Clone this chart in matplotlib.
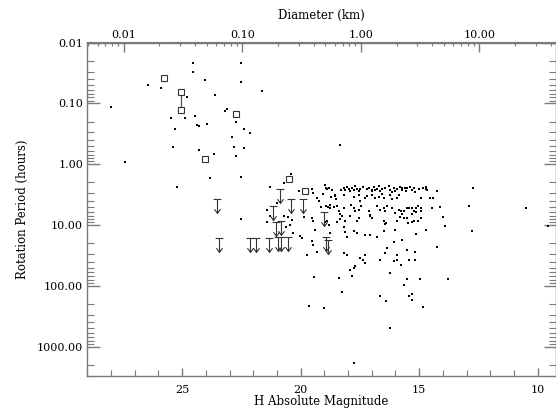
import matplotlib
matplotlib.use("Agg")
import matplotlib.pyplot as plt
from matplotlib.path import Path
from matplotlib.ticker import FixedLocator, FuncFormatter, LogLocator, MultipleLocator, NullFormatter
import numpy as np

# ---- data: H absolute magnitude, rotation period (hours) ----
dot_H = [28.02, 27.39, 26.43, 25.90, 24.55, 24.55, 24.02, 22.51, 22.51, 21.63, 24.81, 23.62, 25.49, 24.89, 24.44,
         25.30, 24.38, 24.27, 23.95, 23.20, 23.10, 22.71, 22.40, 22.12, 22.89, 25.40, 24.30, 23.67, 22.82, 22.40,
         22.72, 23.81, 22.51, 25.21, 21.31, 18.33,
         22.50, 20.72, 20.39, 20.09, 19.52, 19.48, 19.31, 19.24, 18.96, 18.89, 18.82, 18.54, 21.42, 21.00, 21.28,
         21.42, 20.72, 20.55, 20.36, 20.47, 20.60, 19.88, 19.52, 19.48, 19.15, 18.86, 18.75, 18.61, 18.96, 19.38,
         18.78, 18.47, 18.36, 18.19, 18.12, 18.05, 20.32, 20.04, 19.94, 19.52, 19.48, 19.31, 19.73, 18.19, 18.05,
         17.77, 17.91, 17.49, 17.35, 17.28, 19.45, 18.40, 17.84, 17.70, 16.22, 15.52, 14.96, 13.79, 15.63, 18.26,
         16.64, 16.39, 15.41, 15.31, 15.31, 19.63, 19.03, 14.82, 16.22, 17.73, 19.07,
         16.64, 17.28, 16.43, 16.36, 16.08, 15.94, 15.77, 15.53, 15.45, 15.17, 15.17, 14.25, 15.13, 15.73, 14.70,
         13.90, 13.98, 16.08, 15.94,
         12.74, 12.88, 12.78, 10.49, 9.55, 14.11, 14.44, 14.23, 14.70, 14.70, 14.67, 14.53, 14.43, 14.93,
         15.73, 15.52, 15.55, 15.31, 15.24, 15.17, 15.52, 15.41, 15.31, 15.21, 15.13, 15.07, 14.93, 14.93, 15.73,
         15.66, 15.52, 15.31, 15.13, 14.93, 15.49, 15.31, 15.21, 15.03,
         18.92, 18.68, 18.19, 18.12, 18.05, 17.98, 17.91, 17.84, 17.77, 17.63, 17.56, 17.49, 17.20, 17.13, 16.99,
         16.92, 16.85, 16.78, 16.64, 16.57, 16.29, 16.22, 16.08, 16.01, 15.94, 15.80, 15.73, 15.62,
         18.71, 18.54, 18.50, 18.19, 17.77, 17.56, 17.49, 17.30, 17.20, 16.99, 16.85, 16.71, 16.57, 16.50, 16.22,
         16.15, 15.94, 15.84,
         18.93, 18.75, 18.47, 18.37, 18.33, 18.19, 17.86, 17.77, 17.70, 17.56, 17.44, 17.13, 17.06, 16.78, 16.64,
         16.50, 16.43, 16.36, 16.15, 16.01, 15.84, 15.76, 15.66,
         18.89, 18.82, 18.26, 18.12, 17.91, 17.63, 17.56, 17.06, 16.99, 16.50, 16.40, 15.94, 15.80,
         17.77, 17.63, 17.27, 17.06, 16.78, 16.50, 16.43, 16.01,
         17.35, 17.00, 16.45, 16.15, 15.40, 15.00, 14.85, 17.70, 18.30, 16.70]
dot_P = [0.117, 0.92, 0.050, 0.057, 0.022, 0.031, 0.042, 0.022, 0.044, 0.062, 0.078, 0.073, 0.176, 0.172, 0.163,
         0.265, 0.229, 0.234, 0.217, 0.135, 0.123, 0.203, 0.26, 0.31, 0.355, 0.52, 0.59, 0.67, 0.53, 0.55,
         0.74, 1.72, 1.60, 2.34, 2.37, 0.48,
         8.1, 2.05, 1.43, 2.72, 2.55, 3.0, 3.6, 4.05, 2.2, 2.6, 2.45, 3.35, 5.6, 4.41, 7.0,
         8.9, 7.0, 7.5, 8.3, 10.0, 10.6, 7.5, 7.7, 8.5, 5.1, 5.0, 4.7, 5.0, 8.85, 12.1,
         13.7, 8.85, 8.1, 10.7, 12.9, 15.6, 13.7, 14.9, 16.3, 18.6, 21.7, 27.6, 30.6, 29.0, 30.9,
         51, 55, 35, 37.5, 42.5, 72, 73, 68, 48, 62, 78, 78, 76, 98, 125,
         148, 180, 148, 134, 172, 217, 231, 220, 490, 1880, 3.06,
         37.5, 31, 28.8, 23.8, 39, 37.5, 46, 25.7, 37.5, 27.4, 37.5, 22.7, 14.2, 17.6, 12.1,
         10.4, 7.3, 18.8, 31,
         2.45, 4.83, 12.4, 5.3, 10.4, 5.1, 5.3, 2.77, 2.35, 2.55, 2.65, 3.65, 3.56, 3.56,
         2.45, 2.45, 2.74, 2.65, 2.45, 2.9, 5.3, 5.2, 5.3, 5.9, 5.2, 4.95, 5.3, 5.9, 6.7,
         7.6, 7.6, 6.7, 6.2, 7.6, 9.4, 8.85, 8.6, 8.6,
         2.45, 2.62, 2.45, 2.62, 2.40, 2.52, 2.72, 2.45, 2.62, 2.52, 2.72, 2.52, 2.52, 2.45, 2.62,
         2.40, 2.62, 2.52, 2.72, 2.52, 2.31, 2.62, 2.45, 2.72, 2.52, 2.40, 2.62, 2.45,
         3.50, 3.24, 3.68, 3.16, 3.50, 3.24, 4.07, 3.59, 3.37, 3.24, 3.59, 3.50, 3.08, 3.59, 3.24,
         3.68, 3.59, 3.16,
         4.91, 5.23, 4.91, 5.93, 6.56, 5.23, 4.61, 5.23, 5.78, 5.57, 4.91, 5.78, 6.73, 4.91, 5.57,
         5.23, 5.93, 4.91, 5.23, 6.31, 5.57, 5.93, 5.78,
         8.65, 9.82, 7.16, 8.65, 7.16, 8.65, 7.62, 7.16, 7.62, 8.65, 9.2, 8.65, 7.43,
         12.6, 13.4, 14.7, 14.7, 15.8, 12.6, 9.8, 11.9,
         2.35, 2.75, 2.45, 2.85, 2.35, 2.55, 2.45, 2.30, 2.70, 2.30]

square_H = [25.76, 25.03, 25.03, 22.72, 24.03, 20.51, 19.83]
square_P = [0.038, 0.064, 0.128, 0.147, 0.82, 1.73, 2.79]

errbar_H = [25.03, 25.03]
errbar_P = [0.064, 0.128]

limit_H = [23.53, 23.43, 22.12, 21.88, 21.32, 20.95, 20.84, 20.55, 20.86, 20.39, 19.92, 21.15, 21.02, 20.83,
           19.03, 18.93, 18.83]
limit_P = [3.68, 16.3, 16.3, 16.6, 16.6, 15.6, 15.6, 15.6, 2.6, 3.79, 3.79, 4.79, 8.8, 8.6,
           6.05, 16.0, 17.6]

y_major = [0.01, 0.1, 1, 10, 100, 1000]
x_major = [25, 20, 15, 10]
diam_major = [0.01, 0.1, 1.0, 10.0]
H_at_1km = 17.46

plt.rcParams['font.family'] = ['DejaVu Serif']
GRAY = '#7a7a7a'

fig = plt.figure(figsize=(5.56, 4.13), dpi=100)
ax = fig.add_axes([87.3 / 556, 1 - 375.7 / 413, (556 - 87.3) / 556, (375.7 - 42.5) / 413])

ax.set_yscale('log')
ax.set_xlim(29.0, 9.23)
ax.set_ylim(3000, 0.01)

# dots
ax.plot(dot_H, dot_P, linestyle='none', marker='s', ms=1.5, mew=0, color='black')
# error bar
ax.plot(errbar_H, errbar_P, color='#555555', lw=0.9)
# squares
ax.plot(square_H, square_P, linestyle='none', marker='s', ms=4.0, mfc='white', mec='#333333', mew=0.8)
# upper-limit arrows
verts = [(-0.28, 0), (0.28, 0), (0, 0), (0, -1), (-0.22, -0.7), (0, -1), (0.22, -0.7)]
codes = [Path.MOVETO, Path.LINETO, Path.MOVETO, Path.LINETO, Path.MOVETO, Path.LINETO, Path.LINETO]
arrow = Path(verts, codes)
ax.plot(limit_H, limit_P, linestyle='none', marker=arrow, ms=20, mfc='none', mec='#333333', mew=0.8)

# axes styling
for s in ax.spines.values():
    s.set_color(GRAY)
    s.set_linewidth(1.0)

ax.yaxis.set_major_locator(FixedLocator(y_major))
ax.yaxis.set_minor_locator(LogLocator(base=10, subs=np.arange(2, 10), numticks=20))
ax.yaxis.set_major_formatter(FuncFormatter(lambda v, p: f"{v:.2f}"))
ax.yaxis.set_minor_formatter(NullFormatter())
ax.xaxis.set_major_locator(FixedLocator(x_major))
ax.xaxis.set_minor_locator(MultipleLocator(1))
ax.xaxis.set_major_formatter(FuncFormatter(lambda v, p: f"{v:.0f}"))

ax.tick_params(axis='y', which='major', direction='in', length=9, width=1, color=GRAY,
               left=True, right=True, labelsize=8, pad=3)
ax.tick_params(axis='y', which='minor', direction='in', length=5, width=0.8, color=GRAY,
               left=True, right=True)
ax.tick_params(axis='x', which='major', direction='in', length=6, width=1, color=GRAY,
               top=False, bottom=True, labelsize=8, pad=7)
ax.tick_params(axis='x', which='minor', direction='in', length=4, width=0.8, color=GRAY,
               top=False, bottom=True)

ax.set_xlabel('H Absolute Magnitude', fontsize=8.5, labelpad=0)
ax.set_ylabel('Rotation Period (hours)', fontsize=8.5, labelpad=6)

# top diameter axis
fwd = lambda h: 10 ** ((H_at_1km - np.asarray(h, dtype=float)) / 5.0)
inv = lambda d: H_at_1km - 5.0 * np.log10(np.clip(np.asarray(d, dtype=float), 1e-12, None))
sec = ax.secondary_xaxis('top', functions=(fwd, inv))
minor_d = [m * 10.0 ** e for e in range(-3, 2) for m in range(2, 10)]
sec.xaxis.set_major_locator(FixedLocator(diam_major))
sec.xaxis.set_minor_locator(FixedLocator(minor_d))
sec.xaxis.set_major_formatter(FuncFormatter(lambda v, p: f"{v:.2f}"))
sec.xaxis.set_minor_formatter(NullFormatter())
sec.tick_params(axis='x', which='major', direction='in', length=7, width=1, color=GRAY, labelsize=8, pad=2)
sec.tick_params(axis='x', which='minor', direction='in', length=3, width=0.8, color=GRAY)
sec.spines['top'].set_color(GRAY)
sec.set_xlabel('Diameter (km)', fontsize=8.5, labelpad=8)

fig.savefig('out.png', dpi=100)
